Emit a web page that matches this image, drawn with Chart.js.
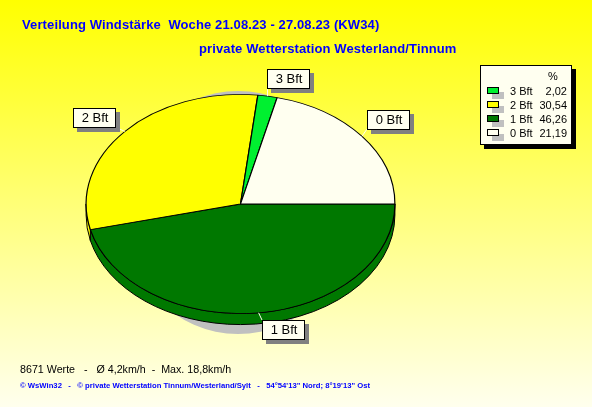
<!DOCTYPE html>
<html>
<head>
<meta charset="utf-8">
<script src="https://cdn.jsdelivr.net/npm/chart.js@4"></script>
<style>
html,body{margin:0;padding:0;width:592px;height:407px;overflow:hidden}
body{position:relative;background:linear-gradient(to bottom,#ffff00 0%,#ffffee 100%);font-family:"Liberation Sans",Arial,sans-serif}
canvas{position:absolute;left:0;top:0}
.txt{position:absolute;white-space:pre;line-height:14px}
.head{font-weight:bold;font-size:13px;color:#0000ff;letter-spacing:0.12px}
#legend{position:absolute;left:480px;top:65px;width:90px;height:78px;background:#fffff0;border:1px solid #000;box-shadow:4px 4px 0 #000;font-size:11px;color:#000}
#legend .sw{position:absolute;left:6px;width:10px;height:5px;border:1px solid #000;box-shadow:5px 5px 0 #c0c0c0}
#legend .n{position:absolute;left:29px;line-height:14px}
#legend .v{position:absolute;right:4px;line-height:14px}
</style>
</head>
<body>
<canvas id="pie" width="592" height="407"></canvas>
<div class="txt head" style="left:22px;top:18px">Verteilung Windstärke  Woche 21.08.23 - 27.08.23 (KW34)</div>
<div class="txt head" style="left:199px;top:42px">private Wetterstation Westerland/Tinnum</div>
<div id="legend"></div>
<div class="txt" style="left:20px;top:362px;font-size:10.7px;color:#000">8671 Werte   -   Ø 4,2km/h  -  Max. 18,8km/h</div>
<div class="txt" style="left:20px;top:379px;font-size:7.7px;font-weight:bold;color:#0000ff">© WsWin32   -   © private Wetterstation Tinnum/Westerland/Sylt   -   54°54'13" Nord; 8°19'13" Ost</div>
<script>
// slices in drawing order, clockwise from 3 o'clock
let categories = ["1 Bft","2 Bft","3 Bft","0 Bft"];
let percent = [46.26,30.54,2.02,21.19];
let colors = ["#007800","#ffff00","#00f030","#fffff0"];
let legendOrder = [2,1,0,3];

let squash = 110/155;
let depth = 11;
// box offset from the slice edge
let labelOffset = [[3,7],[-52,-23],[-1,-27],[5,-26]];

let legendHtml = '<div class="v" style="top:3px">%&nbsp;&nbsp;&nbsp;</div>';
for(let i=0; i<legendOrder.length; i++) {
    let k = legendOrder[i];
    let top = 21+i*14;
    legendHtml +=
        '<div class="sw" style="top:'+top+'px;background:'+colors[k]+'"></div>'+
        '<div class="n" style="top:'+(top-3)+'px">'+categories[k]+'</div>'+
        '<div class="v" style="top:'+(top-3)+'px">'+percent[k].toFixed(2).replace(".",",")+'</div>';
}
document.getElementById("legend").innerHTML = legendHtml;

let pie3d = {
    id:"pie3d",
    beforeDatasetsDraw:function(chart) {
        let ctx = chart.ctx;
        let arcs = chart.getDatasetMeta(0).data;
        let cx = arcs[0].x, cy = arcs[0].y, r = arcs[0].outerRadius;
        // grey shadow behind the pie
        ctx.fillStyle = "#c0c0c0";
        ctx.beginPath();
        ctx.ellipse(cx-2.5,cy+8.5,115,121.5,0,0,Math.PI*2);
        ctx.fill();
        // rim, only the part that faces the viewer
        ctx.lineWidth = 1;
        ctx.strokeStyle = "#000";
        for(let i=0; i<arcs.length; i++) {
            let a0 = Math.max(arcs[i].startAngle,0);
            let a1 = Math.min(arcs[i].endAngle,Math.PI);
            if(a1<=a0) continue;
            ctx.fillStyle = colors[i];
            ctx.beginPath();
            ctx.ellipse(cx,cy+depth,r,r*squash,0,a0,a1);
            ctx.ellipse(cx,cy,r,r*squash,0,a1,a0,true);
            ctx.closePath();
            ctx.fill();
            ctx.stroke();
        }
        ctx.save();
        ctx.translate(cx,cy);
        ctx.scale(1,squash);
        ctx.translate(-cx,-cy);
    },
    afterDatasetsDraw:function(chart) {
        chart.ctx.restore();
    },
    afterDraw:function(chart) {
        let ctx = chart.ctx;
        let arcs = chart.getDatasetMeta(0).data;
        ctx.font = '13px "Liberation Sans"';
        ctx.textAlign = "center";
        ctx.textBaseline = "middle";
        for(let i=0; i<arcs.length; i++) {
            let mid = (arcs[i].startAngle+arcs[i].endAngle)/2;
            let px = arcs[i].x+Math.cos(mid)*arcs[i].outerRadius;
            let py = arcs[i].y+Math.sin(mid)*arcs[i].outerRadius*squash;
            let bx = Math.round(px+labelOffset[i][0]);
            let by = Math.round(py+labelOffset[i][1]);
            let bw = 42, bh = 19;
            // leader
            ctx.strokeStyle = "#fffff0";
            ctx.lineWidth = 1;
            ctx.beginPath();
            ctx.moveTo(px,py);
            ctx.lineTo(Math.max(bx,Math.min(px,bx+bw)),Math.max(by,Math.min(py,by+bh)));
            ctx.stroke();
            // box
            ctx.fillStyle = "#808080";
            ctx.fillRect(bx+4,by+4,bw+1,bh+1);
            ctx.fillStyle = "#fffff0";
            ctx.fillRect(bx,by,bw,bh);
            ctx.strokeStyle = "#000";
            ctx.strokeRect(bx+0.5,by+0.5,bw,bh);
            ctx.fillStyle = "#000";
            ctx.fillText(categories[i],bx+bw/2+1,by+bh/2+1);
        }
    }
};

let chart = new Chart(document.getElementById("pie"), {
    type:"pie",
    plugins:[pie3d],
    data:{
        labels:categories,
        datasets:[{
            data:percent,
            backgroundColor:colors,
            borderColor:"#000",
            borderWidth:1.2,
            clip:false
        }]
    },
    options:{
        responsive:false,
        animation:false,
        rotation:90,
        layout:{padding:{left:85,right:196,top:49,bottom:48}},
        plugins:{legend:{display:false},tooltip:{enabled:false}}
    }
});
</script>
</body>
</html>
